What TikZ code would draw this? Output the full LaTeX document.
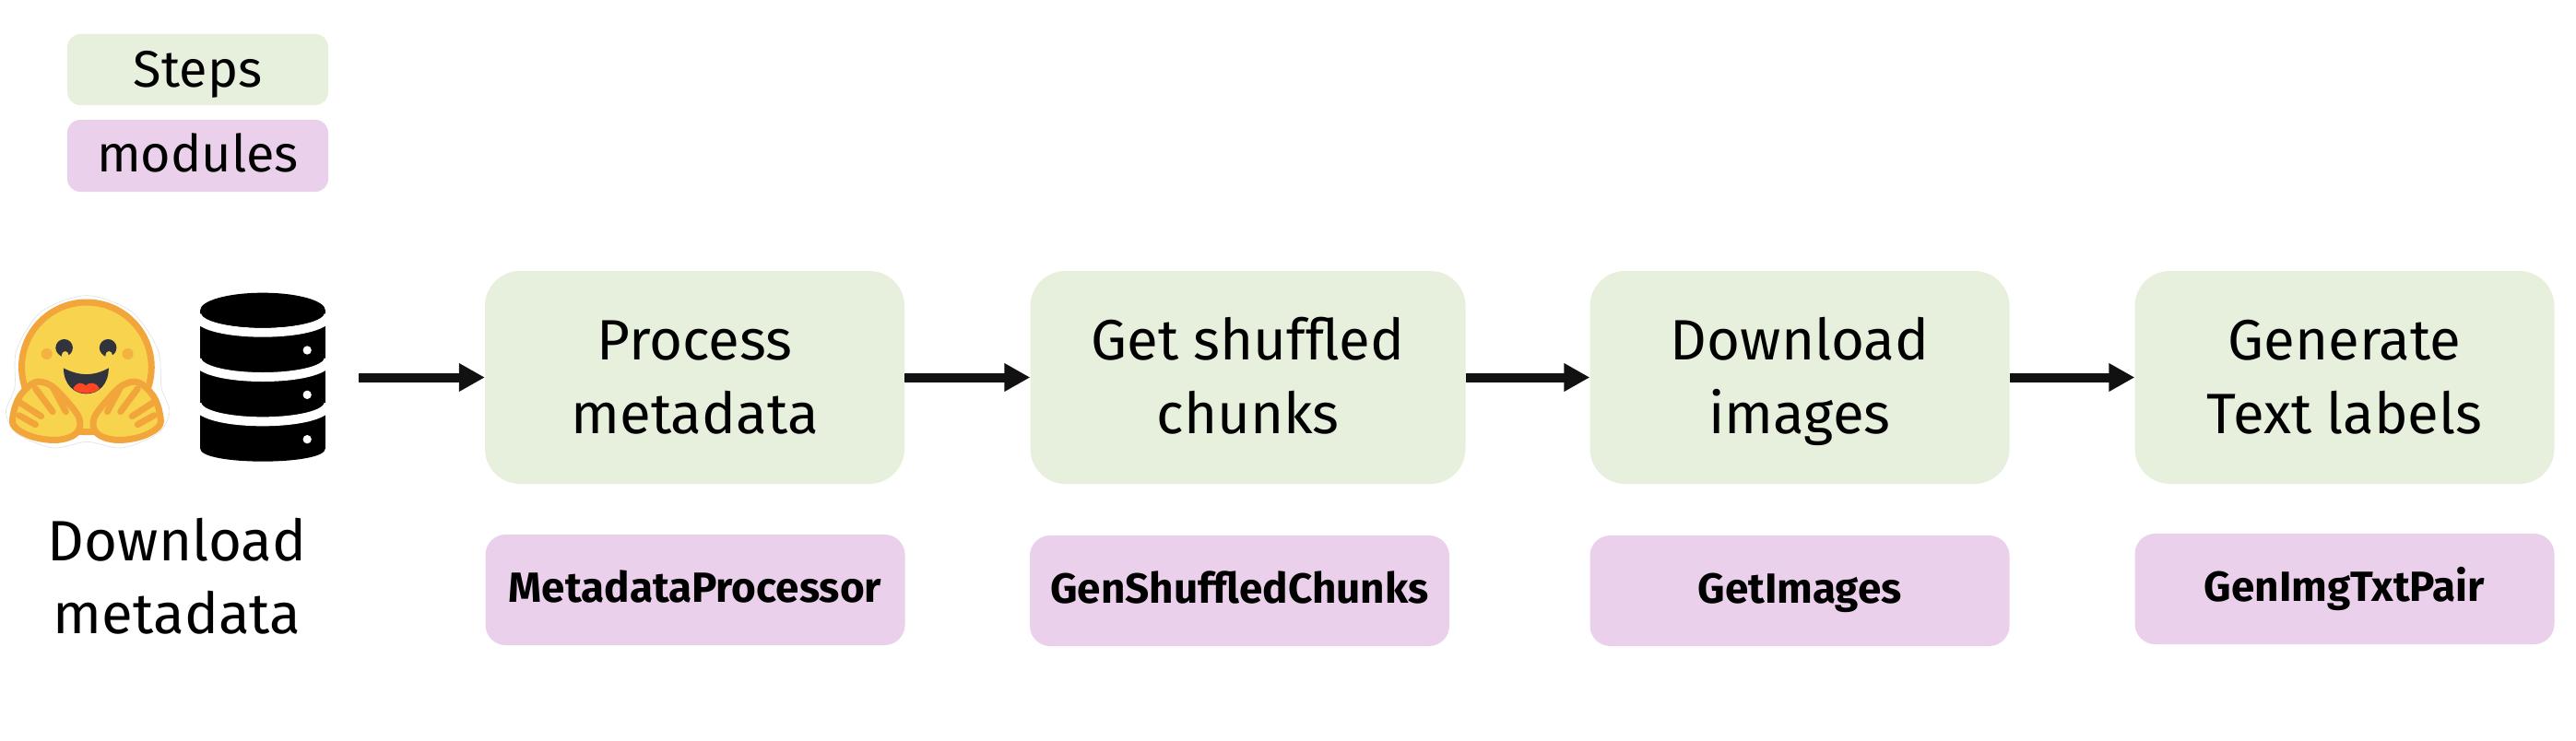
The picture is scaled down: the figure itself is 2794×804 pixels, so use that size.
\documentclass[tikz,border=0pt]{standalone}
\usepackage{fontspec}
\setmainfont{Fira Sans}
\usetikzlibrary{arrows.meta}
\definecolor{stepc}{HTML}{E6F0DC}
\definecolor{modc}{HTML}{EBD0EB}
\definecolor{yel}{HTML}{F8D44E}
\definecolor{org}{HTML}{F2A53A}
\definecolor{dk}{HTML}{32343D}
\definecolor{arr}{HTML}{111111}
\newcommand{\twolines}[2]{\rule{0pt}{42bp}\smash{#1}\\\smash{#2}}
\tikzset{
 x=1bp,y=-1bp,
 stepbox/.style={fill=stepc,rounded corners=38bp,minimum width=455bp,minimum height=231bp,inner sep=0pt,align=center,font=\fontsize{62}{80}\selectfont},
 modbox/.style={fill=modc,rounded corners=22bp,minimum width=455bp,minimum height=120bp,inner sep=0pt,text height=26bp,text depth=0bp,font=\fontsize{46}{54}\selectfont\bfseries},
 legbox/.style={rounded corners=14bp,minimum width=283bp,minimum height=77bp,inner sep=0pt,text height=35bp,text depth=0bp,font=\fontsize{56}{64}\selectfont},
 flow/.style={draw=arr,line width=10bp,-{Triangle[length=28bp,width=29bp]}},
 fingerline/.style={draw=org,line width=7bp,line cap=round},
}
\begin{document}
\begin{tikzpicture}
\useasboundingbox (0,0) rectangle (2794,804);
\node[legbox,fill=stepc,text height=37bp] (lsteps) at (214.5,75.5) {Steps};
\node[legbox,fill=modc,minimum height=78bp] (lmods) at (214.5,169) {modules};
\node[stepbox] (s1) at (753.5,409.5) {\twolines{Process}{metadata}};
\node[stepbox,minimum width=472bp] (s2) at (1353.5,409.5) {\twolines{Get shuffled}{chunks}};
\node[stepbox] (s3) at (1952,409.5) {\twolines{Download}{images}};
\node[stepbox] (s4) at (2543,409.5) {\twolines{Generate}{Text labels}};
\node[modbox] (m1) at (754,640) {MetadataProcessor};
\node[modbox] (m2) at (1344.5,641) {GenShuffledChunks};
\node[modbox] (m3) at (1952,641) {GetImages};
\node[modbox] (m4) at (2543,639) {GenImgTxtPair};
\node[font=\fontsize{62}{80}\selectfont,align=center,inner sep=0pt] (dl) at (192,627) {\twolines{Download}{metadata}};
\coordinate (src) at (389,409.5);
\draw[flow] (src) -- (s1.west);
\draw[flow] (s1.east) -- (s2.west);
\draw[flow] (s2.east) -- (s3.west);
\draw[flow] (s3.east) -- (s4.west);
% database
\begin{scope}[x=1bp/2.8,y=-1bp/3,yshift=-280bp]
 \fill[black] (608,170) -- (608,620) .. controls (608,676) and (988,676) .. (988,620) -- (988,170) -- cycle;
 \foreach \yy in {185,330,475}{
  \draw[white,line width=10bp] (598,\yy) .. controls (608,\yy+76) and (988,\yy+76) .. (998,\yy);
 }
 \fill[black] (798,170) ellipse [x radius=190,y radius=57];
 \foreach \yy in {300,445,590}{\fill[white] (933,\yy) ellipse [x radius=13,y radius=14];}
 % emoji
 \fill[white,draw=black!12,line width=0.6bp] plot[smooth cycle] coordinates {(263,122) (400,175) (480,300) (490,420) (515,500) (480,570) (370,618) (265,598) (160,618) (50,570) (18,500) (45,420) (50,300) (125,175)};
 \fill[yel,draw=org,line width=7bp] (263,355) ellipse [x radius=197,y radius=211];
 \fill[org!70!yel] (142,312) ellipse [x radius=17,y radius=18] (388,312) ellipse [x radius=17,y radius=18];
 \foreach \xx in {195,328}{
  \fill[dk] (\xx,292) ellipse [x radius=26,y radius=28];
  \fill[dk] (\xx-26,292) .. controls (\xx-22,310) and (\xx-10,320) .. (\xx-8,320) .. controls (\xx-6,320) and (\xx-4,312) .. (\xx,308) -- cycle;
  \fill[yel] (\xx+3,318) ellipse [x radius=11,y radius=15];
 }
 \fill[dk] (193,358) .. controls (240,385) and (285,385) .. (330,358) .. controls (330,410) and (300,442) .. (262,442) .. controls (224,442) and (193,410) .. (193,358) -- cycle;
 \fill[red!70!orange!85] (222,425) .. controls (235,400) and (250,405) .. (260,415) .. controls (270,405) and (290,400) .. (302,425) .. controls (285,445) and (240,445) .. (222,425) -- cycle;
 \foreach \m/\sh in {1/0,-1/526}{
 \begin{scope}[xshift=\sh*1bp/2.8,xscale=\m]
  \fill[yel,draw=org,line width=7bp,line join=round] plot[smooth cycle,tension=0.6] coordinates {(40,510) (60,450) (105,405) (150,412) (190,450) (240,520) (232,570) (175,592) (100,582) (45,550)};
  \draw[fingerline] (60,470) -- (125,515);
  \draw[fingerline] (58,512) -- (108,542);
  \draw[fingerline] (108,425) -- (160,500);
  \draw[fingerline] (160,420) -- (200,500);
 \end{scope}}
\end{scope}
\end{tikzpicture}
\end{document}
